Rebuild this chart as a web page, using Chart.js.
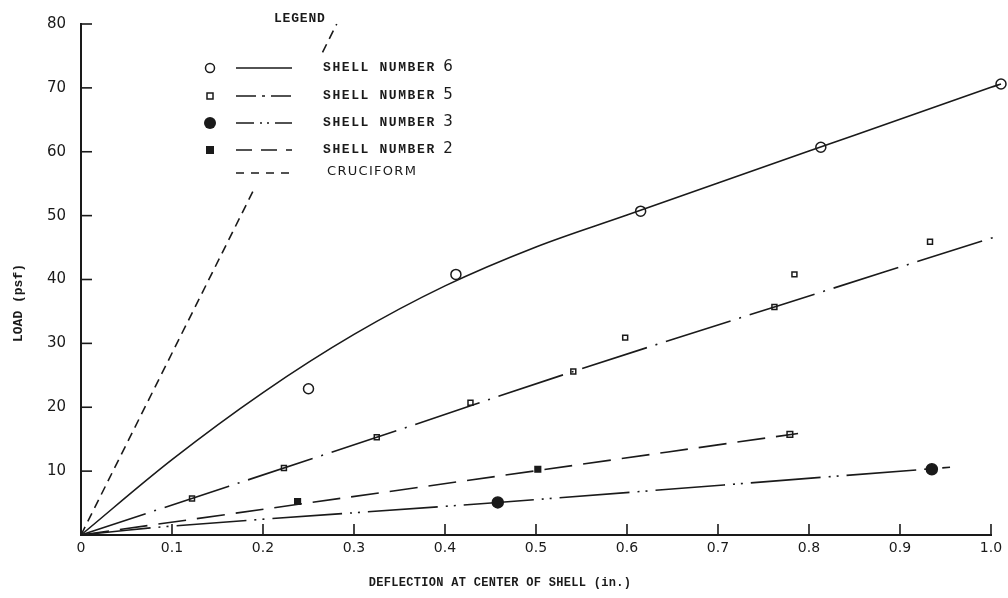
<!DOCTYPE html>
<html>
<head>
<meta charset="utf-8">
<script src="https://cdn.jsdelivr.net/npm/chart.js@4/dist/chart.umd.min.js"></script>
<style>
  body { margin: 0; background: #fff; }
  canvas { display: block; }
</style>
</head>
<body>
<canvas id="plot" width="1008" height="598"></canvas>
<script>
//tick labels
const xTickValues = [0, 0.1, 0.2, 0.3, 0.4, 0.5, 0.6, 0.7, 0.8, 0.9, 1.0];
const xTickLabels = ['0', '0.1', '0.2', '0.3', '0.4', '0.5', '0.6', '0.7', '0.8', '0.9', '1.0'];
const yTickValues = [0, 10, 20, 30, 40, 50, 60, 70, 80];

//measured points (deflection in., load psf)
const shell6X = [0.25, 0.412, 0.615, 0.813, 1.011];
const shell6Y = [22.9, 40.8, 50.7, 60.7, 70.6];
const shell5X = [0.122, 0.223, 0.325, 0.428, 0.541, 0.598, 0.762, 0.784, 0.933];
const shell5Y = [5.7, 10.5, 15.3, 20.7, 25.6, 30.9, 35.7, 40.8, 45.9];
const shell3X = [0.458, 0.935];
const shell3Y = [5.1, 10.3];
const shell2X = [0.238, 0.502, 0.779];
const shell2Y = [5.25, 10.3, 15.75];

//faired curves
const curve6X = [0, 0.1, 0.2, 0.3, 0.4, 0.5, 0.6, 0.7, 0.8, 0.9, 1.0, 1.011];
const curve6Y = [0, 11.8, 22.3, 31.4, 39, 45.1, 50.1, 55.1, 60.1, 65.1, 70.1, 70.6];
const curve5X = [0, 0.325, 0.541, 0.762, 1.003];
const curve5Y = [0, 15.3, 25.6, 35.7, 46.6];
const curve3X = [0, 0.1, 0.458, 0.955];
const curve3Y = [0, 1.4, 5.1, 10.6];
const curve2X = [0, 0.502, 0.788];
const curve2Y = [0, 10.1, 15.9];
const cruciformX = [0, 0.281];
const cruciformY = [0, 80];

//legend rows
const legendNames = ['SHELL NUMBER ', 'SHELL NUMBER ', 'SHELL NUMBER ', 'SHELL NUMBER ', 'CRUCIFORM'];
const legendDigits = ['6', '5', '3', '2', ''];

const ink = '#1a1a1a';
const dash5 = [68, 9, 2, 9];
const dash3 = [70, 8, 2, 6, 2, 8];
const dash2 = [28, 11];
const dashCross = [9, 6];

function pts(xs, ys){
	return xs.map(function(x, i){ return {x: x, y: ys[i]}; });
}

function lineSet(xs, ys, dash){
	return {
		data: pts(xs, ys),
		showLine: true,
		borderColor: ink,
		borderWidth: 1.6,
		borderDash: dash,
		pointRadius: 0,
		tension: 0.35,
		clip: false
	};
}

function markSet(xs, ys, style, radius, fill){
	return {
		data: pts(xs, ys),
		showLine: false,
		pointStyle: style,
		pointRadius: radius,
		pointBackgroundColor: fill,
		pointBorderColor: ink,
		pointBorderWidth: 1.5,
		clip: false
	};
}

//axis lines (x stops at 1.0) and inward tick marks
const axesAndTicks = {
	id: 'axesAndTicks',
	afterDatasetsDraw(chart){
		const c = chart.ctx;
		const xs = chart.scales.x, ys = chart.scales.y;
		const left = chart.chartArea.left, bottom = chart.chartArea.bottom;
		c.save();
		c.strokeStyle = ink;
		c.lineWidth = 2;
		c.beginPath();
		c.moveTo(left, ys.getPixelForValue(80) - 1);
		c.lineTo(left, bottom);
		c.lineTo(xs.getPixelForValue(1.0) + 1, bottom);
		c.stroke();
		c.lineWidth = 1.6;
		xTickValues.forEach(function(v){
			if(v == 0) return;
			const px = xs.getPixelForValue(v);
			c.beginPath(); c.moveTo(px, bottom); c.lineTo(px, bottom - 11); c.stroke();
		});
		yTickValues.forEach(function(v){
			if(v == 0) return;
			const py = ys.getPixelForValue(v);
			c.beginPath(); c.moveTo(left, py); c.lineTo(left + 11, py); c.stroke();
		});
		c.restore();
	}
};

//axis titles and the hand-lettered legend
const annotate = {
	id: 'annotate',
	afterDatasetsDraw(chart){
		const c = chart.ctx;
		c.save();
		c.fillStyle = ink;
		c.textBaseline = 'middle';

		//x title
		c.font = 'bold 12px "Liberation Mono"';
		c.letterSpacing = '0.3px';
		c.textAlign = 'center';
		c.fillText('DEFLECTION AT CENTER OF SHELL (in.)', 500, 583);

		//y title
		c.save();
		c.translate(19, 303);
		c.rotate(-Math.PI / 2);
		c.font = 'bold 13px "Liberation Mono"';
		c.letterSpacing = '0px';
		c.fillText('LOAD (psf)', 0, 0);
		c.restore();

		//legend box hides the cruciform line behind it
		c.fillStyle = '#fff';
		c.fillRect(196, 56, 270, 134);
		c.fillStyle = ink;

		c.textAlign = 'left';
		c.font = 'bold 13px "Liberation Mono"';
		c.letterSpacing = '0.8px';
		c.fillText('LEGEND', 274, 19);

		const rowY = [68, 96, 123, 150, 173];
		const dashes = [[], [20, 6, 3, 6], [18, 6, 2, 5, 2, 6], [16, 9], [8, 7]];
		for(let i = 0; i < rowY.length; i++){
			const y = rowY[i];
			//sample line
			c.strokeStyle = ink;
			c.lineWidth = 1.6;
			c.setLineDash(dashes[i]);
			c.beginPath(); c.moveTo(236, y); c.lineTo(292, y); c.stroke();
			c.setLineDash([]);
			//marker
			c.lineWidth = 1.5;
			if(i == 0){
				c.beginPath(); c.arc(210, y, 4.5, 0, Math.PI * 2); c.stroke();
			}else if(i == 1){
				c.strokeRect(207, y - 3, 6, 6);
			}else if(i == 2){
				c.beginPath(); c.arc(210, y, 6, 0, Math.PI * 2); c.fill();
			}else if(i == 3){
				c.fillRect(206, y - 4, 8, 8);
			}
			//label
			if(legendDigits[i]){
				c.font = 'bold 13px "Liberation Mono"';
				c.letterSpacing = '1.6px';
				c.fillText(legendNames[i], 323, y);
				const w = c.measureText(legendNames[i]).width;
				c.font = '15px "DejaVu Sans"';
				c.letterSpacing = '0px';
				c.fillText(legendDigits[i], 323 + w - 2, y - 1);
			}else{
				c.font = '13px "DejaVu Sans"';
				c.letterSpacing = '1.3px';
				c.fillText(legendNames[i], 327, y - 1);
			}
		}
		c.restore();
	}
};

const tickFont = {family: '"DejaVu Sans"', size: 14};

new Chart(document.getElementById('plot'), {
	type: 'scatter',
	data: {
		datasets: [
			lineSet(curve6X, curve6Y, []),
			lineSet(curve5X, curve5Y, dash5),
			lineSet(curve3X, curve3Y, dash3),
			lineSet(curve2X, curve2Y, dash2),
			lineSet(cruciformX, cruciformY, dashCross),
			markSet(shell6X, shell6Y, 'circle', 5, '#fff'),
			markSet(shell5X, shell5Y, 'rect', 3.5, '#fff'),
			markSet(shell3X, shell3Y, 'circle', 5.5, ink),
			markSet(shell2X, shell2Y, 'rect', 4, [ink, ink, '#fff'])
		]
	},
	options: {
		responsive: false,
		animation: false,
		layout: {padding: {top: 17, right: 3, left: 0, bottom: 0}},
		plugins: {legend: {display: false}, tooltip: {enabled: false}},
		scales: {
			x: {
				type: 'linear',
				min: 0,
				max: 1.011,
				afterBuildTicks: function(s){ s.ticks = xTickValues.map(function(v){ return {value: v}; }); },
				afterFit: function(s){ s.height = 63; },
				grid: {drawOnChartArea: false, drawTicks: false},
				border: {display: false},
				ticks: {
					color: ink,
					font: tickFont,
					padding: 5,
					maxRotation: 0,
					callback: function(v, i){ return xTickLabels[i]; }
				}
			},
			y: {
				type: 'linear',
				min: 0,
				max: 80,
				afterBuildTicks: function(s){ s.ticks = yTickValues.map(function(v){ return {value: v}; }); },
				afterFit: function(s){ s.width = 81; },
				grid: {drawOnChartArea: false, drawTicks: false},
				border: {display: false},
				ticks: {
					color: ink,
					font: {family: '"DejaVu Sans"', size: 15},
					padding: 15,
					callback: function(v){ return v == 0 ? '' : String(v); }
				}
			}
		}
	},
	plugins: [axesAndTicks, annotate]
});
</script>
</body>
</html>
